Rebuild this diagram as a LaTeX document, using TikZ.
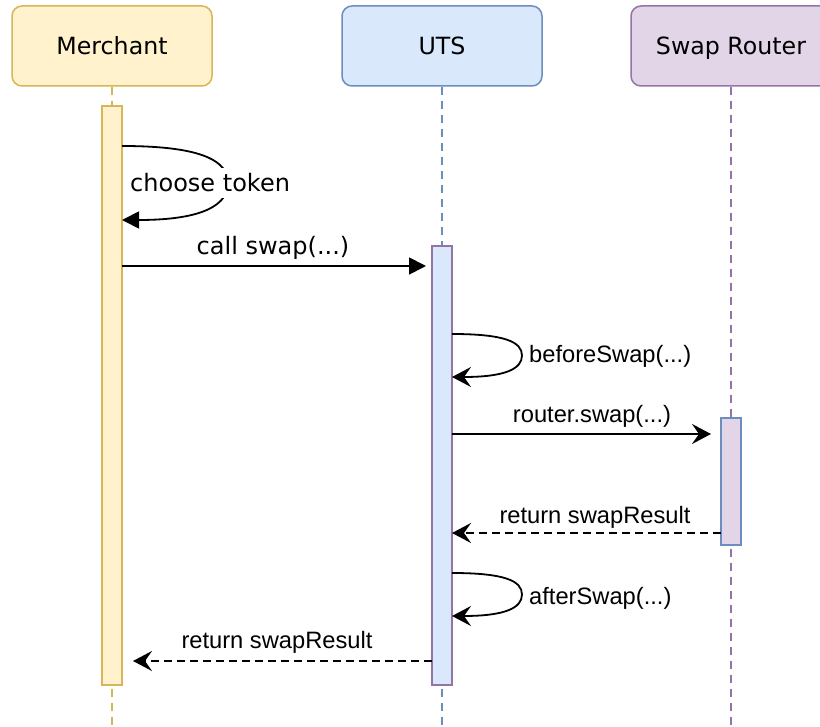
\documentclass[tikz,border=0pt]{standalone}
\usepackage{fontspec}
\newfontfamily\headfont{DejaVu Sans}
\newfontfamily\msgfont{Liberation Sans}
\usetikzlibrary{arrows.meta,calc}

\definecolor{ylwfill}{HTML}{FFF2CC}
\definecolor{ylwline}{HTML}{D6B656}
\definecolor{bluefill}{HTML}{DAE8FC}
\definecolor{blueline}{HTML}{6C8EBF}
\definecolor{purpfill}{HTML}{E1D5E7}
\definecolor{purpline}{HTML}{9673A6}

\tikzset{
  actor/.style={draw, rounded corners=10pt, line width=1.5pt, minimum width=200pt,
    minimum height=80pt, inner sep=0pt, text height=19pt, text depth=2pt,
    font=\headfont\fontsize{23.7}{28}\selectfont},
  lifeline/.style={line width=1.5pt, dash pattern=on 8pt off 6pt},
  actbar/.style={draw, line width=1.5pt, minimum width=20pt, inner sep=0pt, outer sep=0pt},
  callmsg/.style={line width=1.8pt, -{Triangle[length=17pt,width=17pt]}},
  syncmsg/.style={line width=1.8pt, -{Stealth[length=19pt,width=20pt,inset=7pt]}},
  retmsg/.style={line width=1.8pt, dash pattern=on 8pt off 5pt,
    -{Stealth[length=19pt,width=20pt,inset=7pt]}},
  biglabel/.style={font=\headfont\fontsize{24}{28}\selectfont, inner sep=1pt},
  smalllabel/.style={font=\msgfont\fontsize{23.7}{27}\selectfont, inner sep=1pt},
}

\begin{document}
\begin{tikzpicture}[x=1pt, y=-1pt]
  \useasboundingbox (0,0) rectangle (820,727);
  \clip (0,0) rectangle (820,727);

  % participant headers
  \node[actor, fill=ylwfill, draw=ylwline] (merchant) at (112,46) {Merchant};
  \node[actor, fill=bluefill, draw=blueline] (uts) at (442,46) {UTS};
  \node[actor, fill=purpfill, draw=purpline] (router) at (731,46) {Swap Router};

  % lifeline ends
  \coordinate (mEnd) at (112,727);
  \coordinate (uEnd) at (442,727);
  \coordinate (rEnd) at (731,727);

  \draw[lifeline, draw=ylwline] (merchant.south) -- (mEnd);
  \draw[lifeline, draw=blueline] (uts.south) -- (uEnd);
  \draw[lifeline, draw=purpline] (router.south) -- (rEnd);

  % activation bars
  \node[actbar, fill=ylwfill, draw=ylwline, minimum height=579pt] (mbar) at (112,395.5) {};
  \node[actbar, fill=bluefill, draw=purpline, minimum height=439pt] (ubar) at (442,465.5) {};
  \node[actbar, fill=purpfill, draw=blueline, minimum height=127pt] (rbar) at (731,481.5) {};

  % merchant picks a token
  \coordinate (ct1) at (mbar.east |- 0,146);
  \coordinate (ct2) at (mbar.east |- 0,220);
  \draw[callmsg] (ct1) .. controls (205,146) and (228,162) .. (228,183)
                       .. controls (228,204) and (205,220) .. (ct2);
  \node[biglabel, fill=white, anchor=west, inner ysep=6pt] (ctlabel) at (129,183) {choose token};

  % merchant calls UTS
  \coordinate (cs1) at (mbar.east |- 0,266);
  \coordinate (cs2) at (426,266);
  \draw[callmsg] (cs1) -- (cs2);
  \node[biglabel] (cslabel) at (273,248) {call swap(...)};

  % beforeSwap hook
  \coordinate (bs1) at (ubar.east |- 0,334);
  \coordinate (bs2) at (ubar.east |- 0,377);
  \draw[syncmsg] (bs1) .. controls (505,334) and (522,342) .. (522,355.5)
                       .. controls (522,369) and (505,377) .. (bs2);
  \node[smalllabel, anchor=west] (bslabel) at (528,356) {beforeSwap(...)};

  % UTS calls the router
  \coordinate (rs1) at (ubar.east |- 0,434);
  \coordinate (rs2) at (711,434);
  \draw[syncmsg] (rs1) -- (rs2);
  \node[smalllabel] (rslabel) at (592,416) {router.swap(...)};

  % router returns
  \coordinate (rr1) at (rbar.west |- 0,533);
  \coordinate (rr2) at (ubar.east |- 0,533);
  \draw[retmsg] (rr1) -- (rr2);
  \node[smalllabel] (rrlabel) at (595,517) {return swapResult};

  % afterSwap hook
  \coordinate (as1) at (ubar.east |- 0,573);
  \coordinate (as2) at (ubar.east |- 0,616);
  \draw[syncmsg] (as1) .. controls (505,573) and (522,581) .. (522,594.5)
                       .. controls (522,608) and (505,616) .. (as2);
  \node[smalllabel, anchor=west] (aslabel) at (528,598) {afterSwap(...)};

  % UTS returns to merchant
  \coordinate (mr1) at (ubar.west |- 0,661);
  \coordinate (mr2) at (133,661);
  \draw[retmsg] (mr1) -- (mr2);
  \node[smalllabel] (mrlabel) at (277,642) {return swapResult};
\end{tikzpicture}
\end{document}
